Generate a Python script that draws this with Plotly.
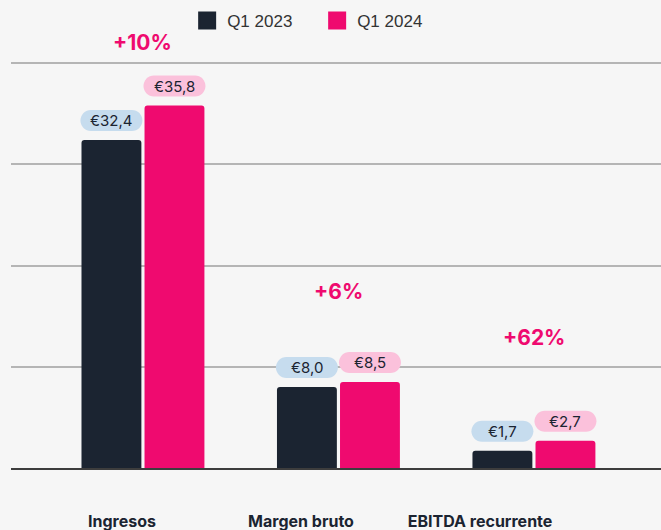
import plotly.graph_objects as go

categories = ["Ingresos", "Margen bruto", "EBITDA recurrente"]
series_names = ["Q1 2023", "Q1 2024"]
q1_2023 = [32.4, 8.0, 1.7]
q1_2024 = [35.8, 8.5, 2.7]
labels_2023 = ["€32,4", "€8,0", "€1,7"]
labels_2024 = ["€35,8", "€8,5", "€2,7"]
growth_labels = ["+10%", "+6%", "+62%"]
growth_label_level = [42.0, 17.4, 12.9]
grid_values = [10, 20, 30, 40]

DARK = "#1b2431"
PINK = "#ef0a6f"
BLUE_PILL = "#c6dcee"
PINK_PILL = "#fbc1db"
BG = "#f6f6f6"

W, H = 661, 530
ML, MR, MT, MB = 11, 0, 22, 62
PX_PER_UNIT = 10.125
XR = [-0.675, 2.65]
X2R = [-0.62, 3.011]
BARGAP, GROUPGAP = 0.355, 0.05

plot_w = W - ML - MR
plot_h = H - MT - MB
YR = [0, plot_h / PX_PER_UNIT]
cat_px = plot_w / (XR[1] - XR[0])
slot_px = cat_px * (1 - BARGAP) / 2
offsets = [-slot_px / 2, slot_px / 2]

fig = go.Figure()
for name, vals, col in [(series_names[0], q1_2023, DARK), (series_names[1], q1_2024, PINK)]:
    fig.add_trace(go.Bar(x=categories, y=vals, name=name, marker=dict(color=col, line=dict(width=0)),
                         showlegend=False, hoverinfo="skip"))
    fig.add_trace(go.Scatter(x=[None], y=[None], mode="markers", name=name,
                             marker=dict(symbol="square", size=16, color=col,
                                         line=dict(width=2, color=col))))

fig.add_trace(go.Scatter(x=categories, y=[None] * len(categories), xaxis="x2", yaxis="y",
                         showlegend=False, hoverinfo="skip", mode="markers"))


def capsule(cx, w, h, bottom):
    r = h / 2
    k = 0.5523 * r
    x0, x1 = cx - w / 2, cx + w / 2
    y0, y1 = bottom, bottom + h
    return (f"M{x0 + r},{y0} L{x1 - r},{y0} "
            f"C{x1 - r + k},{y0} {x1},{y0 + r - k} {x1},{y0 + r} "
            f"C{x1},{y0 + r + k} {x1 - r + k},{y1} {x1 - r},{y1} "
            f"L{x0 + r},{y1} "
            f"C{x0 + r - k},{y1} {x0},{y0 + r + k} {x0},{y0 + r} "
            f"C{x0},{y0 + r - k} {x0 + r - k},{y0} {x0 + r},{y0} Z")


PILL_W, PILL_H, PILL_GAP = 62, 21, 9
for vals, labs, pill_col, off in [(q1_2023, labels_2023, BLUE_PILL, offsets[0]),
                                  (q1_2024, labels_2024, PINK_PILL, offsets[1])]:
    for cat, v, lab in zip(categories, vals, labs):
        fig.add_shape(type="path", xref="x", yref="y", xsizemode="pixel", ysizemode="pixel",
                      xanchor=cat, yanchor=v, path=capsule(off, PILL_W, PILL_H, PILL_GAP),
                      fillcolor=pill_col, line=dict(width=0), layer="above")
        fig.add_annotation(x=cat, y=v, xshift=off, yshift=PILL_GAP + PILL_H / 2, text=lab,
                           showarrow=False, yanchor="middle", xanchor="center",
                           font=dict(family="Inter", size=15, color=DARK))

for cat, g, lvl in zip(categories, growth_labels, growth_label_level):
    fig.add_annotation(x=cat, y=lvl, text=f"<b>{g}</b>", showarrow=False, yanchor="middle",
                       font=dict(family="Inter", size=21, color=PINK))

fig.update_layout(
    width=W, height=H,
    margin=dict(l=ML, r=MR, t=MT, b=MB, autoexpand=False),
    paper_bgcolor=BG, plot_bgcolor=BG,
    barmode="group", bargap=BARGAP, bargroupgap=GROUPGAP, barcornerradius=3,
    showlegend=True,
    legend=dict(orientation="h", x=0.271, xanchor="left", y=1 - 3 / H, yref="container",
                yanchor="top", entrywidth=85, entrywidthmode="pixels",
                font=dict(family="Liberation Sans, Arial", size=17, color="#333333"),
                bgcolor="rgba(0,0,0,0)"),
    xaxis=dict(type="category", range=XR, showgrid=False, showticklabels=False, ticks="",
               showline=True, linecolor="#3d3d3d", linewidth=2, zeroline=False, fixedrange=True,
               automargin=False),
    xaxis2=dict(type="category", overlaying="x", anchor="y", side="bottom", range=X2R,
                showgrid=False, showline=False, zeroline=False, ticks="outside", ticklen=39,
                tickcolor="rgba(0,0,0,0)", automargin=False, fixedrange=True,
                tickfont=dict(family="Inter", size=16, color=DARK, weight="bold")),
    yaxis=dict(range=YR, tickvals=grid_values, showticklabels=False, showgrid=True,
               gridcolor="#b5b5b5", gridwidth=1.5, zeroline=False, ticks="", fixedrange=True,
               automargin=False),
)

fig.write_html("out.html", config={"displayModeBar": False},
               post_script="document.body.style.margin='0';")
